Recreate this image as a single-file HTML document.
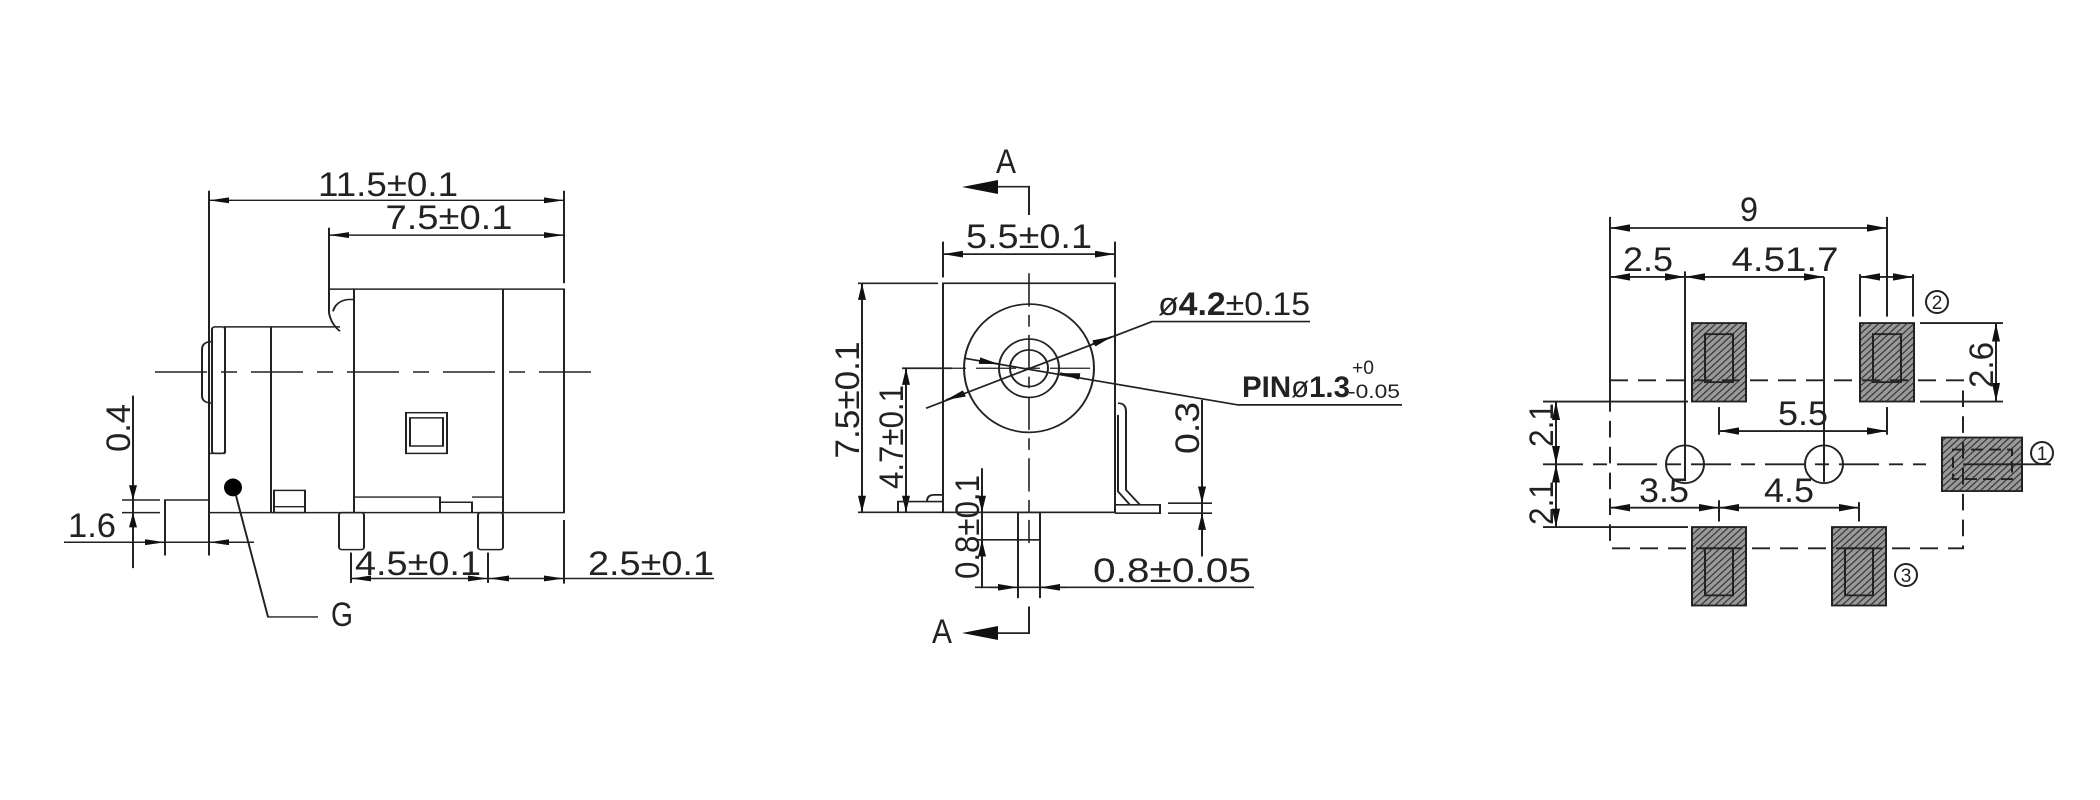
<!DOCTYPE html>
<html><head><meta charset="utf-8"><style>
html,body{margin:0;padding:0;background:#fff;}
svg{display:block;}
text{font-family:"Liberation Sans",sans-serif;fill:#222;}
</style></head><body>
<svg width="2100" height="800" viewBox="0 0 2100 800" xmlns="http://www.w3.org/2000/svg">
<defs>
<marker id="a" viewBox="0 0 20 8" refX="20" refY="4" markerWidth="20" markerHeight="8" orient="auto-start-reverse" markerUnits="userSpaceOnUse"><path d="M0,0 L20,4 L0,8 Z" fill="#111"/></marker>
<pattern id="h" width="5" height="5" patternUnits="userSpaceOnUse" patternTransform="rotate(45)"><rect width="5" height="5" fill="#9a9a9a"/><line x1="0" y1="0" x2="0" y2="5" stroke="#333" stroke-width="2.5"/></pattern>
</defs>
<!-- LEFT VIEW -->
<g transform="translate(0,150) scale(1,0.74) translate(0,-150)" stroke="#222" stroke-width="2" fill="none">
<line x1="209" y1="205" x2="209" y2="698"/>
<line x1="564" y1="205" x2="564" y2="330"/>
<line x1="564" y1="650" x2="564" y2="736"/>
<line x1="329" y1="255" x2="329" y2="338"/>
<line x1="209" y1="218" x2="564" y2="218" marker-start="url(#a)" marker-end="url(#a)"/>
<line x1="329" y1="265" x2="564" y2="265" marker-start="url(#a)" marker-end="url(#a)"/>
<rect x="354" y="338" width="210" height="302"/>
<line x1="503" y1="338" x2="503" y2="640"/>
<path d="M354,338 H329 V370 M329,370 Q331,385 340,395 M354,352 H348 Q336,354 333,368"/>
<path d="M340,389 H225 V560"/>
<line x1="271" y1="389" x2="271" y2="640"/>
<rect x="212" y="389" width="13" height="171" rx="3"/>
<path d="M212,409 Q202,409 202,420 V482 Q202,492 212,492"/>
<path d="M209,560 H225"/>
<line x1="209" y1="640" x2="354" y2="640"/>
<rect x="406" y="505" width="41" height="55"/>
<rect x="410" y="512" width="33" height="38"/>
<polyline points="235,612 268,781 318,781"/>
<rect x="274" y="610" width="31" height="30"/>
<line x1="274" y1="632" x2="305" y2="632"/>
<path d="M354,619 H440 V640 M440,626 H472 V640 M472,619 H503"/>
<rect x="339" y="640" width="25" height="50" rx="3"/>
<rect x="478" y="640" width="25" height="50" rx="3"/>
<path d="M165,698 V623 H209"/>
<line x1="155" y1="450" x2="603" y2="450" stroke-dasharray="52 14 16 14"/>
<line x1="64" y1="680" x2="254" y2="680"/>
<line x1="115" y1="680" x2="165" y2="680" marker-end="url(#a)"/>
<line x1="254" y1="680" x2="209" y2="680" marker-end="url(#a)"/>
<line x1="133" y1="482" x2="133" y2="715"/>
<line x1="133" y1="580" x2="133" y2="623" marker-end="url(#a)"/>
<line x1="133" y1="705" x2="133" y2="640" marker-end="url(#a)"/>
<line x1="122" y1="623" x2="160" y2="623"/>
<line x1="122" y1="640" x2="160" y2="640"/>
<line x1="351" y1="694" x2="351" y2="735"/>
<line x1="488" y1="694" x2="488" y2="735"/>
<line x1="351" y1="729" x2="488" y2="729" marker-start="url(#a)" marker-end="url(#a)"/>
<line x1="489" y1="729" x2="564" y2="729" marker-start="url(#a)" marker-end="url(#a)"/>
<line x1="564" y1="729" x2="714" y2="729"/>
<ellipse cx="233" cy="606" rx="9" ry="12" fill="#000" stroke="none"/>
</g>
<!-- MIDDLE VIEW -->
<g transform="translate(0,140) scale(1,0.833) translate(0,-140)" stroke="#222" stroke-width="2" fill="none">
<rect x="943" y="312" width="172" height="275"/>
<line x1="1029" y1="300" x2="1029" y2="624" stroke-dasharray="40 10 14 10" stroke-width="1.6"/>
<ellipse cx="1029" cy="414" rx="65" ry="77"/>
<ellipse cx="1029" cy="414" rx="30" ry="35"/>
<ellipse cx="1029" cy="414" rx="19" ry="22"/>
<line x1="902" y1="414" x2="1100" y2="414" stroke-dasharray="40 10 14 10" stroke-width="1.6"/>
<line x1="943" y1="262" x2="943" y2="305"/>
<line x1="1115" y1="262" x2="1115" y2="305"/>
<line x1="943" y1="277" x2="1115" y2="277" marker-start="url(#a)" marker-end="url(#a)"/>
<line x1="858" y1="312" x2="938" y2="312"/>
<line x1="858" y1="587" x2="943" y2="587"/>
<line x1="862" y1="312" x2="862" y2="587" marker-start="url(#a)" marker-end="url(#a)"/>
<line x1="902" y1="414" x2="952" y2="414"/>
<line x1="906" y1="414" x2="906" y2="587" marker-start="url(#a)" marker-end="url(#a)"/>
<path d="M898,587 V574 H927 Q927,566 934,566 H943 M927,574 H943"/>
<path d="M1115,578 H1160 V588 H1115"/>
<path d="M1118,456 Q1126,456 1126,466 V560 L1140,578 M1118,470 V562 L1130,578"/>
<rect x="1018" y="587" width="22" height="33"/>
<line x1="982" y1="534" x2="982" y2="678"/>
<line x1="982" y1="545" x2="982" y2="587" marker-end="url(#a)"/>
<line x1="982" y1="665" x2="982" y2="620" marker-end="url(#a)"/>
<line x1="975" y1="620" x2="1018" y2="620"/>
<line x1="1018" y1="620" x2="1018" y2="690"/>
<line x1="1040" y1="620" x2="1040" y2="690"/>
<line x1="975" y1="677" x2="1254" y2="677"/>
<line x1="990" y1="677" x2="1018" y2="677" marker-end="url(#a)"/>
<line x1="1066" y1="677" x2="1040" y2="677" marker-end="url(#a)"/>
<line x1="1202" y1="452" x2="1202" y2="640"/>
<line x1="1202" y1="535" x2="1202" y2="576" marker-end="url(#a)"/>
<line x1="1202" y1="630" x2="1202" y2="588" marker-end="url(#a)"/>
<line x1="1168" y1="576" x2="1212" y2="576"/>
<line x1="1168" y1="588" x2="1212" y2="588"/>
<polyline points="926,462 1152,358 1310,358"/>
<path d="M965,444 L946,452" marker-end="url(#a)"/>
<path d="M1092,385 L1112,376" marker-end="url(#a)"/>
<polyline points="964,402 1238,458 1402,458"/>
<path d="M980,405 L999,409" marker-end="url(#a)"/>
<path d="M1080,424 L1060,420" marker-end="url(#a)"/>
<polyline points="1029,230 1029,196 996,196"/>
<polyline points="1029,700 1029,732 996,732"/>
</g>
<!-- RIGHT VIEW -->
<g transform="translate(0,180) scale(1,0.923) translate(0,-180)" stroke="#222" stroke-width="2" fill="none">
<line x1="1610" y1="220" x2="1610" y2="420"/>
<line x1="1887" y1="220" x2="1887" y2="328"/>
<line x1="1610" y1="232" x2="1887" y2="232" marker-start="url(#a)" marker-end="url(#a)"/>
<line x1="1610" y1="285" x2="1685" y2="285" marker-start="url(#a)" marker-end="url(#a)"/>
<line x1="1685" y1="285" x2="1824" y2="285" marker-start="url(#a)" marker-end="url(#a)"/>
<line x1="1860" y1="285" x2="1913" y2="285" marker-start="url(#a)" marker-end="url(#a)"/>
<line x1="1860" y1="282" x2="1860" y2="328"/>
<line x1="1913" y1="282" x2="1913" y2="328"/>
<line x1="1685" y1="279" x2="1685" y2="505"/>
<line x1="1824" y1="285" x2="1824" y2="507"/>
<rect x="1692" y="335" width="54" height="85" fill="url(#h)"/>
<rect x="1860" y="335" width="54" height="85" fill="url(#h)"/>
<rect x="1942" y="459" width="80" height="58" fill="url(#h)"/>
<rect x="1692" y="556" width="54" height="85" fill="url(#h)"/>
<rect x="1832" y="556" width="54" height="85" fill="url(#h)"/>
<rect x="1705" y="347" width="28" height="52"/>
<rect x="1873" y="347" width="28" height="52"/>
<rect x="1953" y="472" width="59" height="32" stroke-dasharray="12 6"/>
<rect x="1705" y="579" width="28" height="51"/>
<rect x="1845" y="579" width="28" height="51"/>
<path d="M1610,397 H1963 V579 H1610 Z" stroke-dasharray="18 10"/>
<ellipse cx="1685" cy="488" rx="19" ry="20.5"/>
<ellipse cx="1824" cy="488" rx="19" ry="20.5"/>
<line x1="1543" y1="488" x2="1926" y2="488" stroke-dasharray="40 10 14 10"/>
<line x1="1963" y1="488" x2="2051" y2="488"/>
<line x1="1543" y1="420" x2="1688" y2="420"/>
<line x1="1543" y1="556" x2="1688" y2="556"/>
<line x1="1556" y1="420" x2="1556" y2="488" marker-start="url(#a)" marker-end="url(#a)"/>
<line x1="1556" y1="488" x2="1556" y2="556" marker-start="url(#a)" marker-end="url(#a)"/>
<line x1="1920" y1="335" x2="2003" y2="335"/>
<line x1="1920" y1="420" x2="2003" y2="420"/>
<line x1="1996" y1="335" x2="1996" y2="420" marker-start="url(#a)" marker-end="url(#a)"/>
<line x1="1719" y1="426" x2="1719" y2="456"/>
<line x1="1887" y1="426" x2="1887" y2="456"/>
<line x1="1719" y1="452" x2="1887" y2="452" marker-start="url(#a)" marker-end="url(#a)"/>
<line x1="1610" y1="535" x2="1719" y2="535" marker-start="url(#a)" marker-end="url(#a)"/>
<line x1="1719" y1="535" x2="1859" y2="535" marker-start="url(#a)" marker-end="url(#a)"/>
<line x1="1719" y1="527" x2="1719" y2="550"/>
<line x1="1859" y1="529" x2="1859" y2="550"/>
</g>
<g stroke="#222" stroke-width="2" fill="none">
<circle cx="1937" cy="302" r="11"/>
<circle cx="2042" cy="453" r="11"/>
<circle cx="1906" cy="575" r="11"/>
</g>
<path d="M962,187 L998,180 L998,194 Z" fill="#111"/>
<path d="M962,633 L998,626 L998,640 Z" fill="#111"/>
<g font-size="34">
<text x="388" y="196" text-anchor="middle" textLength="140" lengthAdjust="spacingAndGlyphs">11.5±0.1</text>
<text x="449" y="229" text-anchor="middle" textLength="127" lengthAdjust="spacingAndGlyphs">7.5±0.1</text>
<text x="92" y="537" text-anchor="middle" textLength="48" lengthAdjust="spacingAndGlyphs">1.6</text>
<text transform="translate(133,428) rotate(-90)" x="0" y="-3" text-anchor="middle" textLength="48" lengthAdjust="spacingAndGlyphs">0.4</text>
<text x="418" y="575" text-anchor="middle" textLength="126" lengthAdjust="spacingAndGlyphs">4.5±0.1</text>
<text x="651" y="575" text-anchor="middle" textLength="126" lengthAdjust="spacingAndGlyphs">2.5±0.1</text>
<text x="331" y="626" textLength="22" lengthAdjust="spacingAndGlyphs">G</text>
<text x="1029" y="248" text-anchor="middle" textLength="126" lengthAdjust="spacingAndGlyphs">5.5±0.1</text>
<text transform="translate(862,400) rotate(-90)" x="0" y="-3" text-anchor="middle" textLength="117" lengthAdjust="spacingAndGlyphs">7.5±0.1</text>
<text transform="translate(906,437) rotate(-90)" x="0" y="-3" text-anchor="middle" textLength="104" lengthAdjust="spacingAndGlyphs">4.7±0.1</text>
<text transform="translate(982,527) rotate(-90)" x="0" y="-3" text-anchor="middle" textLength="104" lengthAdjust="spacingAndGlyphs">0.8±0.1</text>
<text x="1172" y="582" text-anchor="middle" textLength="158" lengthAdjust="spacingAndGlyphs">0.8±0.05</text>
<text transform="translate(1202,428) rotate(-90)" x="0" y="-3" text-anchor="middle" textLength="52" lengthAdjust="spacingAndGlyphs">0.3</text>
<text x="1006" y="173" text-anchor="middle" textLength="20" lengthAdjust="spacingAndGlyphs">A</text>
<text x="942" y="643" text-anchor="middle" textLength="20" lengthAdjust="spacingAndGlyphs">A</text>
<text x="1749" y="221" text-anchor="middle" textLength="18" lengthAdjust="spacingAndGlyphs">9</text>
<text x="1648" y="271" text-anchor="middle" textLength="50" lengthAdjust="spacingAndGlyphs">2.5</text>
<text x="1785" y="271" text-anchor="middle" textLength="107" lengthAdjust="spacingAndGlyphs">4.51.7</text>
<text x="1803" y="425" text-anchor="middle" textLength="50" lengthAdjust="spacingAndGlyphs">5.5</text>
<text x="1664" y="502" text-anchor="middle" textLength="50" lengthAdjust="spacingAndGlyphs">3.5</text>
<text x="1789" y="502" text-anchor="middle" textLength="50" lengthAdjust="spacingAndGlyphs">4.5</text>
<text transform="translate(1556,425) rotate(-90)" x="0" y="-3" text-anchor="middle" textLength="44" lengthAdjust="spacingAndGlyphs">2.1</text>
<text transform="translate(1556,503) rotate(-90)" x="0" y="-3" text-anchor="middle" textLength="44" lengthAdjust="spacingAndGlyphs">2.1</text>
<text transform="translate(1996,365) rotate(-90)" x="0" y="-3" text-anchor="middle" textLength="46" lengthAdjust="spacingAndGlyphs">2.6</text>
</g>
<text x="1158" y="315" font-size="32" textLength="152" lengthAdjust="spacingAndGlyphs">ø<tspan font-weight="bold">4.2</tspan>±0.15</text>
<text x="1242" y="397" font-size="30" font-weight="bold" textLength="108" lengthAdjust="spacingAndGlyphs">PIN<tspan font-weight="normal">ø</tspan>1.3</text>
<text x="1352" y="374" font-size="19" textLength="22" lengthAdjust="spacingAndGlyphs">+0</text>
<text x="1348" y="398" font-size="19" textLength="52" lengthAdjust="spacingAndGlyphs">-0.05</text>
<g font-size="19" text-anchor="middle">
<text x="1937" y="309">2</text>
<text x="2042" y="460">1</text>
<text x="1906" y="582">3</text>
</g>
</svg>
</body></html>
